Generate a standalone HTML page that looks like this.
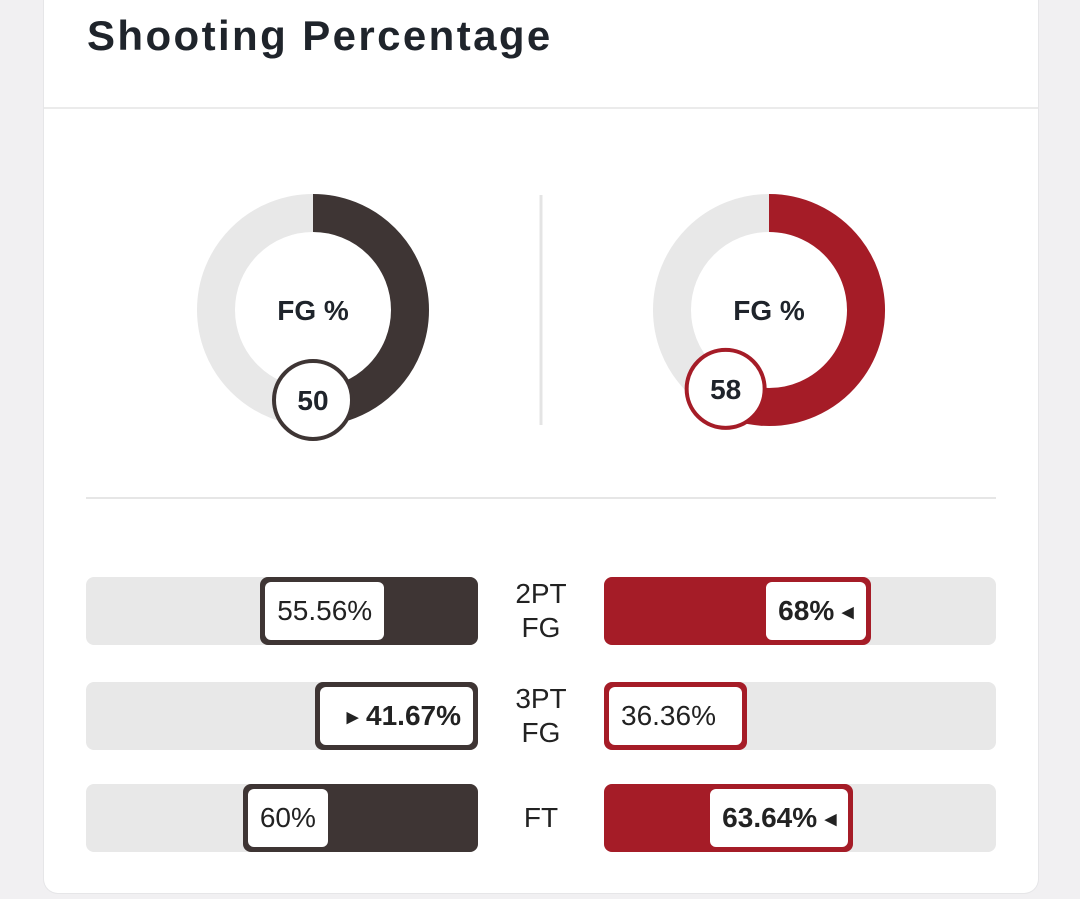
<!DOCTYPE html>
<html><head><meta charset="utf-8"><style>
body{margin:0;width:1080px;height:899px;background:#f1f0f2;font-family:"Liberation Sans",sans-serif;overflow:hidden;position:relative}
.card{position:absolute;left:44px;top:-20px;width:994px;height:913px;background:#fff;border-radius:14px;box-shadow:0 0 0 1px #e6e6e8}
.title{position:absolute;left:87px;top:12px;font-size:42px;font-weight:bold;color:#1f242b;letter-spacing:2.4px}
.hdiv{position:absolute;left:44px;width:994px;top:107px;height:2px;background:#ebebeb}
.track{position:absolute;height:68px;width:392px;background:#e8e8e8;border-radius:8px}
.fill{position:absolute;top:0;height:68px;box-sizing:border-box;border-radius:8px;padding:5px}
.lab{position:absolute;top:5px;height:58px;background:#fff;border-radius:6px;font-size:28px;line-height:58px;color:#222;padding:0 12px;white-space:nowrap;box-sizing:border-box}
.cat{position:absolute;left:491px;width:100px;text-align:center;font-size:28px;line-height:34px;color:#222}
</style></head><body>
<div class="card"></div>
<div class="title">Shooting Percentage</div>
<div class="hdiv"></div>
<svg id="donuts" width="1080" height="899" style="position:absolute;left:0;top:0"></svg>
<div id="bars"></div>
<script>
const donutValues=[50,58];
const donutColors=['#3e3534','#a51c27'];
const categories=[['2PT','FG'],['3PT','FG'],['FT']];
const leftValues=[55.56,41.67,60];
const rightValues=[68,36.36,63.64];
const leftLabels=['55.56%','41.67%','60%'];
const rightLabels=['68%','36.36%','63.64%'];

const ns='http://www.w3.org/2000/svg';
const svg=document.getElementById('donuts');
function mk(t,a){const e=document.createElementNS(ns,t);for(const k in a)e.setAttribute(k,a[k]);svg.appendChild(e);return e;}
const centers=[313,769], cy=310, R=97, W=38, BR=90;
let l=mk('line',{x1:541,y1:195,x2:541,y2:425,stroke:'#e4e4e4','stroke-width':3});


let h=mk('line',{x1:86,y1:498,x2:996,y2:498,stroke:'#e6e6e6','stroke-width':2});


donutValues.forEach((v,i)=>{
  const cx=centers[i];
  const bg=mk('circle',{cx,cy,r:R,fill:'none',stroke:'#e8e8e8','stroke-width':W});
  
  
  const a=v/100*2*Math.PI;
  const ex=cx+R*Math.sin(a), ey=cy-R*Math.cos(a);
  const arc=mk('path',{d:`M${cx} ${cy-R} A${R} ${R} 0 ${v>50?1:0} 1 ${ex} ${ey}`,fill:'none',stroke:donutColors[i],'stroke-width':W});
  
  
  const t=mk('text',{x:cx,y:cy+10,'text-anchor':'middle','font-size':28,'font-weight':'bold',fill:'#1f242b','font-family':'Liberation Sans'});
  t.textContent='FG %';
  
  
  const bx=cx+BR*Math.sin(a), by=cy-BR*Math.cos(a);
  const b=mk('circle',{cx:bx,cy:by,r:39,fill:'#fff',stroke:donutColors[i],'stroke-width':4});
  
  
  const bt=mk('text',{x:bx,y:by+10,'text-anchor':'middle','font-size':28,'font-weight':'bold',fill:'#1f242b','font-family':'Liberation Sans'});
  bt.textContent=v;
  
  
});

const bars=document.getElementById('bars');
const rowsY=[577,682,784], TW=392;
categories.forEach((c,i)=>{
  const y=rowsY[i];
  const lw=leftValues[i]>rightValues[i], rw=!lw;
  const lt=document.createElement('div');lt.className='track';lt.style.left='86px';lt.style.top=y+'px';
  
  
  const lf=document.createElement('div');lf.className='fill';
  const lwid=leftValues[i]/100*TW;
  lf.style.width=lwid+'px';lf.style.right='0';lf.style.background=donutColors[0];
  
  
  const ll=document.createElement('div');ll.className='lab';ll.style.left='5px';
  if(lw){ll.style.fontWeight='bold';ll.style.right='5px';ll.style.textAlign='right';ll.innerHTML='<span style="font-size:15px;vertical-align:3px">&#9654;</span> '+leftLabels[i];}
  else ll.textContent=leftLabels[i];
  
  
  lf.appendChild(ll);lt.appendChild(lf);bars.appendChild(lt);
  const rt=document.createElement('div');rt.className='track';rt.style.left='604px';rt.style.top=y+'px';
  
  
  const rf=document.createElement('div');rf.className='fill';
  rf.style.width=(rightValues[i]/100*TW)+'px';rf.style.left='0';rf.style.background=donutColors[1];
  
  
  const rl=document.createElement('div');rl.className='lab';rl.style.right='5px';
  if(rw){rl.style.fontWeight='bold';rl.innerHTML=rightLabels[i]+' <span style="font-size:15px;vertical-align:3px">&#9664;</span>';}
  else{rl.style.left='5px';rl.textContent=rightLabels[i];}
  
  
  rf.appendChild(rl);rt.appendChild(rf);bars.appendChild(rt);
  const ct=document.createElement('div');ct.className='cat';
  ct.innerHTML=c.join('<br>');
  ct.style.top=(y+34-c.length*17)+'px';
  
  
  bars.appendChild(ct);
});
</script>
</body></html>
